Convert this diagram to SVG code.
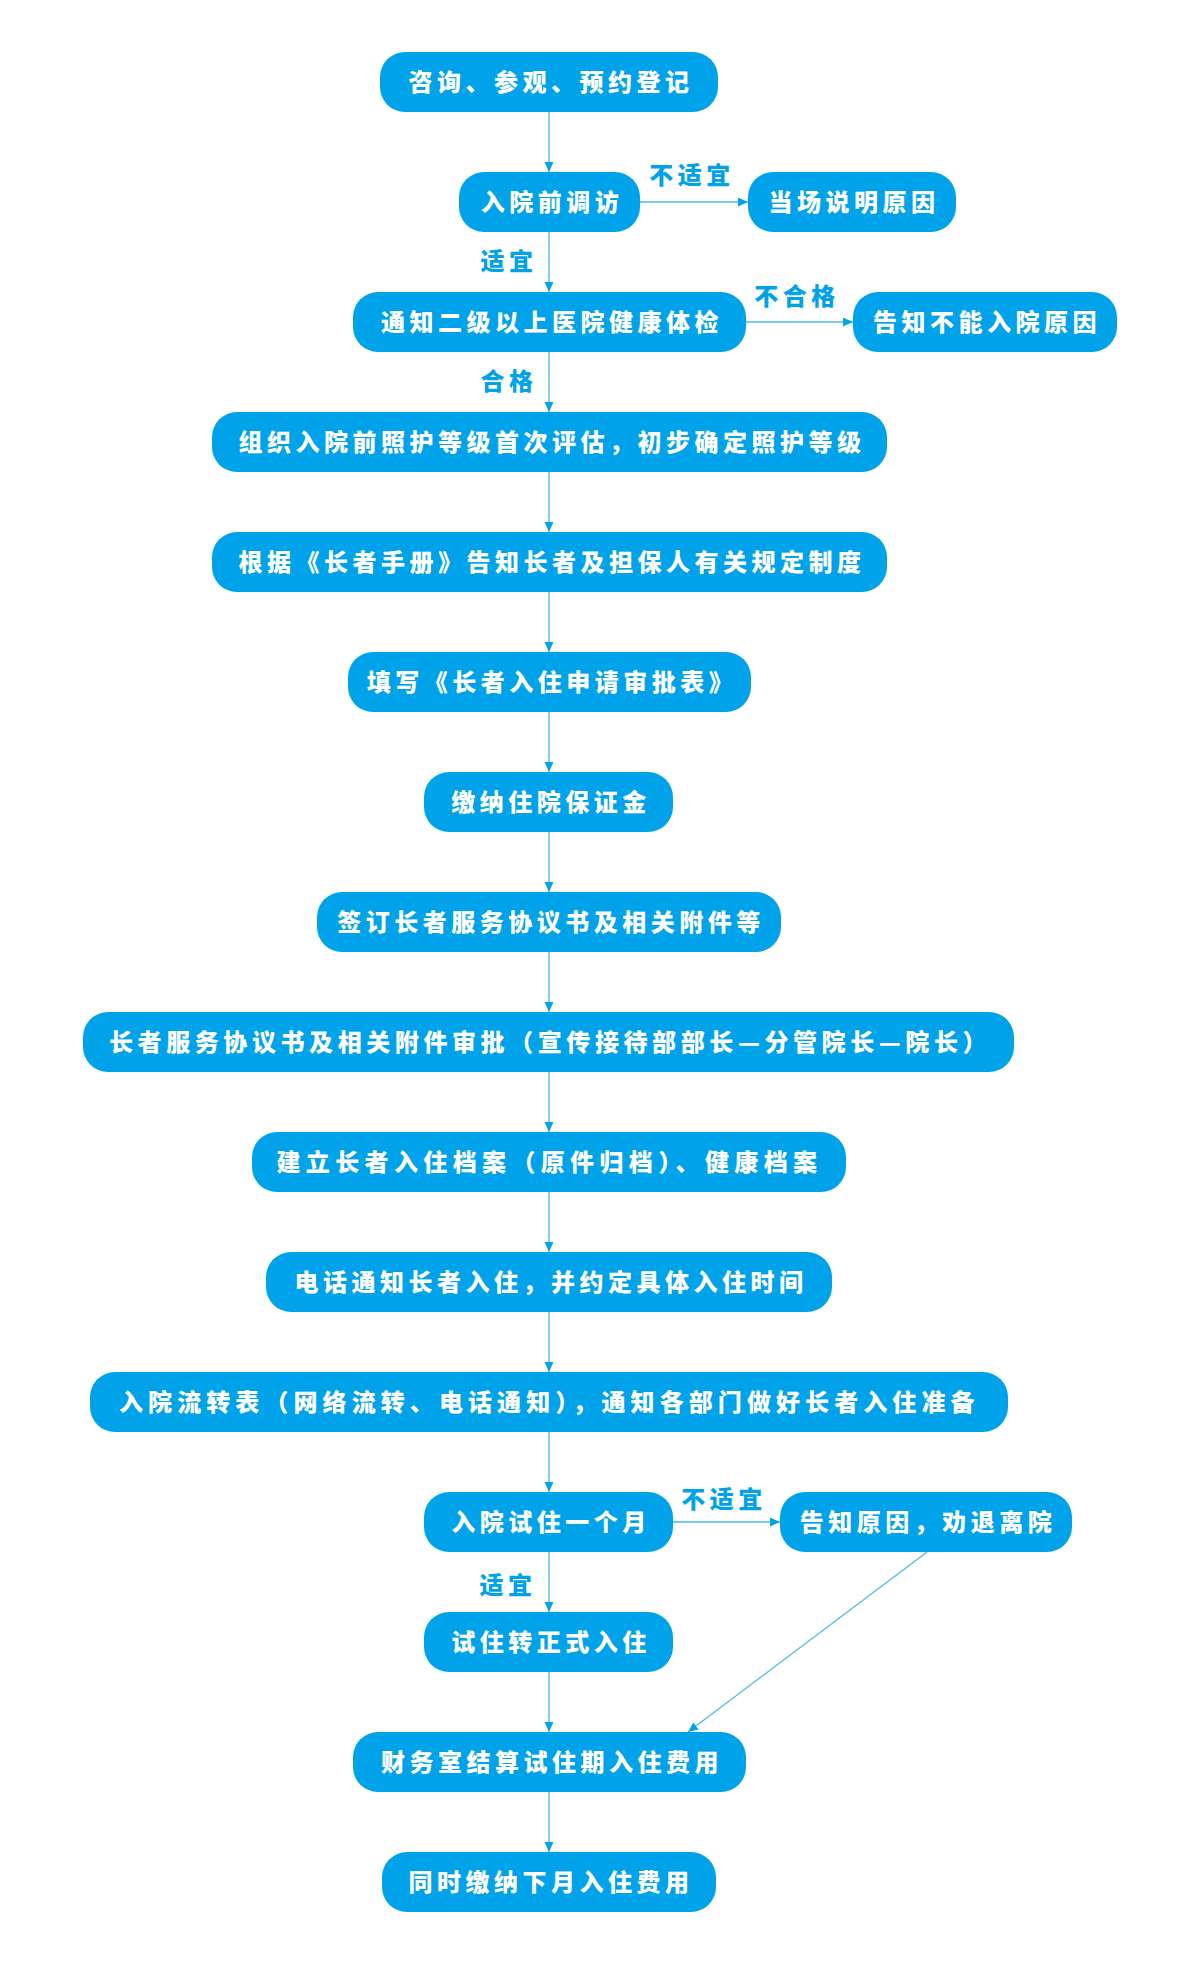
<svg xmlns="http://www.w3.org/2000/svg" width="1200" height="1964" viewBox="0 0 1200 1964">
<style>
.box{fill:#00A2E9;}
.t{font-family:"Noto Sans CJK SC","Noto Sans",sans-serif;font-weight:900;font-size:24px;letter-spacing:4.5px;fill:#FFFFFF;text-anchor:middle;}
.lb{font-family:"Noto Sans CJK SC","Noto Sans",sans-serif;font-weight:900;font-size:24px;letter-spacing:4.5px;fill:#00A2E9;text-anchor:middle;}
.c{stroke:#4DB8EA;stroke-width:1.3;fill:none;marker-end:url(#ah);}
</style>
<defs>
<marker id="ah" markerUnits="userSpaceOnUse" markerWidth="11" markerHeight="10" refX="10" refY="4.5" orient="auto">
<path d="M0,0 L10,4.5 L0,9 Z" fill="#00A2E9"/>
</marker>
</defs>
<rect width="1200" height="1964" fill="#FFFFFF"/>
<g id="connectors">
<line class="c" x1="549" y1="112" x2="549" y2="172"/>
<line class="c" x1="640" y1="202" x2="748" y2="202"/>
<line class="c" x1="549" y1="232" x2="549" y2="292"/>
<line class="c" x1="746" y1="322" x2="853" y2="322"/>
<line class="c" x1="549" y1="352" x2="549" y2="412"/>
<line class="c" x1="549" y1="472" x2="549" y2="532"/>
<line class="c" x1="549" y1="592" x2="549" y2="652"/>
<line class="c" x1="549" y1="712" x2="549" y2="772"/>
<line class="c" x1="549" y1="832" x2="549" y2="892"/>
<line class="c" x1="549" y1="952" x2="549" y2="1012"/>
<line class="c" x1="549" y1="1072" x2="549" y2="1132"/>
<line class="c" x1="549" y1="1192" x2="549" y2="1252"/>
<line class="c" x1="549" y1="1312" x2="549" y2="1372"/>
<line class="c" x1="549" y1="1432" x2="549" y2="1492"/>
<line class="c" x1="673" y1="1522" x2="780" y2="1522"/>
<line class="c" x1="549" y1="1552" x2="549" y2="1612"/>
<line class="c" x1="549" y1="1672" x2="549" y2="1732"/>
<line class="c" x1="927" y1="1552" x2="688" y2="1732"/>
<line class="c" x1="549" y1="1792" x2="549" y2="1852"/>
<text class="lb" x="692" y="184">不适宜</text>
<text class="lb" x="509" y="270">适宜</text>
<text class="lb" x="797" y="305">不合格</text>
<text class="lb" x="509" y="390">合格</text>
<text class="lb" x="724" y="1508">不适宜</text>
<text class="lb" x="508" y="1594">适宜</text>
</g>
<g id="n1"><rect class="box" x="380" y="52" width="338" height="60" rx="25"/><text class="t" x="551" y="91">咨询、参观、预约登记</text></g>
<g id="n2"><rect class="box" x="459" y="172" width="181" height="60" rx="25"/><text class="t" x="552" y="211">入院前调访</text></g>
<g id="n2b"><rect class="box" x="748" y="172" width="208" height="60" rx="25"/><text class="t" x="854" y="211">当场说明原因</text></g>
<g id="n3"><rect class="box" x="353" y="292" width="393" height="60" rx="25"/><text class="t" x="552" y="331">通知二级以上医院健康体检</text></g>
<g id="n3b"><rect class="box" x="853" y="292" width="264" height="60" rx="25"/><text class="t" x="987" y="331">告知不能入院原因</text></g>
<g id="n4"><rect class="box" x="212" y="412" width="675" height="60" rx="25"/><text class="t" x="552" y="451">组织入院前照护等级首次评估，初步确定照护等级</text></g>
<g id="n5"><rect class="box" x="212" y="532" width="675" height="60" rx="25"/><text class="t" x="552" y="571">根据《长者手册》告知长者及担保人有关规定制度</text></g>
<g id="n6"><rect class="box" x="348" y="652" width="403" height="60" rx="25"/><text class="t" x="552" y="691">填写《长者入住申请审批表》</text></g>
<g id="n7"><rect class="box" x="424" y="772" width="249" height="60" rx="25"/><text class="t" x="551" y="811">缴纳住院保证金</text></g>
<g id="n8"><rect class="box" x="317" y="892" width="464" height="60" rx="25"/><text class="t" x="551" y="931">签订长者服务协议书及相关附件等</text></g>
<g id="n9"><rect class="box" x="83" y="1012" width="931" height="60" rx="25"/><text class="t" x="550" y="1051" textLength="882" lengthAdjust="spacing">长者服务协议书及相关附件审批（宣传接待部部长—分管院长—院长）</text></g>
<g id="n10"><rect class="box" x="252" y="1132" width="594" height="60" rx="25"/><text class="t" x="549" y="1171" textLength="545" lengthAdjust="spacing">建立长者入住档案（原件归档）、健康档案</text></g>
<g id="n11"><rect class="box" x="266" y="1252" width="566" height="60" rx="25"/><text class="t" x="551" y="1291">电话通知长者入住，并约定具体入住时间</text></g>
<g id="n12"><rect class="box" x="90" y="1372" width="918" height="60" rx="25"/><text class="t" x="549" y="1411" textLength="860" lengthAdjust="spacing">入院流转表（网络流转、电话通知），通知各部门做好长者入住准备</text></g>
<g id="n13"><rect class="box" x="424" y="1492" width="249" height="60" rx="25"/><text class="t" x="551" y="1531">入院试住一个月</text></g>
<g id="n13b"><rect class="box" x="780" y="1492" width="292" height="60" rx="25"/><text class="t" x="928" y="1531">告知原因，劝退离院</text></g>
<g id="n14"><rect class="box" x="424" y="1612" width="249" height="60" rx="25"/><text class="t" x="551" y="1651">试住转正式入住</text></g>
<g id="n15"><rect class="box" x="353" y="1732" width="393" height="60" rx="25"/><text class="t" x="552" y="1771">财务室结算试住期入住费用</text></g>
<g id="n16"><rect class="box" x="382" y="1852" width="334" height="60" rx="25"/><text class="t" x="551" y="1891">同时缴纳下月入住费用</text></g>
</svg>
